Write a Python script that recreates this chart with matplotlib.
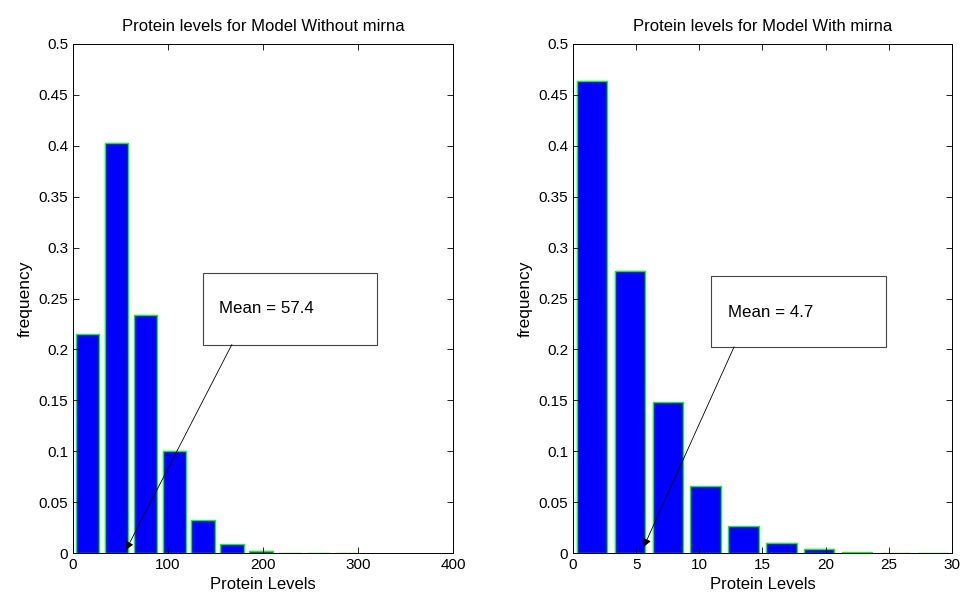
import matplotlib.pyplot as plt
from matplotlib.patches import Rectangle
from matplotlib.ticker import FuncFormatter

plt.rcParams['font.family'] = ['Liberation Sans', 'DejaVu Sans']

# Histograma sem mirna
centros_sem = [15.3, 45.7, 76.1, 106.5, 136.9, 167.3, 197.7, 228.1, 258.5, 288.9]
freq_sem = [0.215, 0.403, 0.234, 0.1005, 0.0325, 0.009, 0.0017, 0.0004, 0.0003, 0.0003]
media_sem = 57.4
seta_sem = (55.8, 0.003)

# Histograma com mirna
centros_com = [1.5, 4.5, 7.5, 10.5, 13.5, 16.5, 19.5, 22.5, 25.5, 28.5]
freq_com = [0.464, 0.277, 0.148, 0.066, 0.0265, 0.0101, 0.0036, 0.0011, 0.0003, 0.0003]
media_com = 4.7
seta_com = (5.6, 0.006)

yticks = [0, 0.05, 0.1, 0.15, 0.2, 0.25, 0.3, 0.35, 0.4, 0.45, 0.5]

fig = plt.figure(figsize=(9.65, 5.97), dpi=100)
ax1 = fig.add_axes([0.0756, 0.0737, 0.394, 0.8526])
ax2 = fig.add_axes([0.5938, 0.0737, 0.3927, 0.8526])


def desenha(ax, centros, freq, largura, xlim, xticks, titulo, texto, seta, caixa, pos_texto, inicio):
    ax.bar(centros, freq, width=largura, color='#0000ff', edgecolor='#00ff00', linewidth=1)
    ax.set_xlim(*xlim)
    ax.set_ylim(0, 0.5)
    ax.set_xticks(xticks)
    ax.set_yticks(yticks)
    ax.yaxis.set_major_formatter(FuncFormatter(lambda v, p: f"{v:g}"))
    ax.tick_params(direction='in', top=True, right=True, labelsize=11, length=4, width=0.6, pad=3.5)
    for s in ax.spines.values():
        s.set_linewidth(0.7)
    ax.set_title(titulo, fontsize=12, pad=9)
    ax.set_xlabel('Protein Levels', fontsize=12, labelpad=4)
    ax.set_ylabel('frequency', fontsize=12.5, labelpad=4)
    x0, y0, x1, y1 = caixa
    ax.add_patch(Rectangle((x0, y0), x1 - x0, y1 - y0, transform=ax.transAxes,
                           facecolor='white', edgecolor='#444444', linewidth=0.8, zorder=5))
    ax.text(pos_texto[0], pos_texto[1], texto, transform=ax.transAxes, fontsize=12.2,
            va='center', ha='left', zorder=6)
    ax.annotate('', xy=seta, xycoords='data', xytext=inicio, textcoords='axes fraction',
                arrowprops=dict(arrowstyle='-|>', color='black', lw=0.6,
                                mutation_scale=12, shrinkA=0, shrinkB=0), zorder=6)


desenha(ax1, centros_sem, freq_sem, 24.5, (0, 400), [0, 100, 200, 300, 400],
        'Protein levels for Model Without mirna', f'Mean = {media_sem}', seta_sem,
        (0.342, 0.4096, 0.8, 0.55), (0.384, 0.481), (0.418, 0.4096))
desenha(ax2, centros_com, freq_com, 2.4, (0, 30), [0, 5, 10, 15, 20, 25, 30],
        'Protein levels for Model With mirna', f'Mean = {media_com}', seta_com,
        (0.364, 0.405, 0.826, 0.544), (0.409, 0.473), (0.425, 0.405))

fig.savefig('out.png', dpi=100)
